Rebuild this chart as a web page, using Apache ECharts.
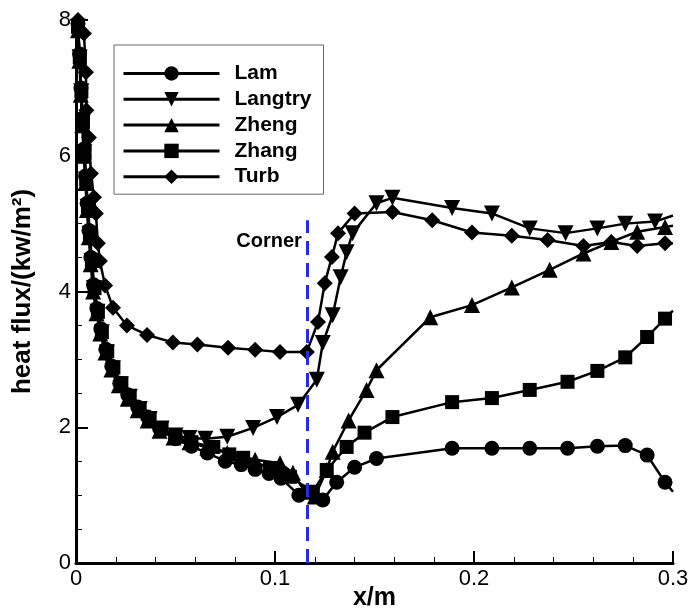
<!DOCTYPE html>
<html>
<head>
<meta charset="utf-8">
<script src="https://cdn.jsdelivr.net/npm/echarts@6/dist/echarts.min.js"></script>
<style>
  html, body { margin: 0; padding: 0; background: #fff; }
  #chart { width: 688px; height: 611px; }
</style>
</head>
<body>
<div id="chart"></div>
<script>
var names = ['Lam', 'Langtry', 'Zheng', 'Zhang', 'Turb'];

// [x (m), heat flux (kw/m2)]
var lam = [
  [0.001, 7.95], [0.0018, 7.5], [0.0025, 7.0], [0.0032, 6.55], [0.004, 6.1], [0.0048, 5.7],
  [0.0056, 5.3], [0.0065, 4.9], [0.0075, 4.5], [0.0088, 4.1], [0.0105, 3.75], [0.0125, 3.45],
  [0.015, 3.15], [0.018, 2.9], [0.022, 2.65], [0.026, 2.48], [0.031, 2.3], [0.036, 2.15],
  [0.042, 1.98], [0.05, 1.83], [0.058, 1.72], [0.066, 1.62], [0.075, 1.5], [0.083, 1.45],
  [0.09, 1.38], [0.097, 1.32], [0.103, 1.25], [0.112, 1.0], [0.124, 0.93], [0.131, 1.19],
  [0.14, 1.41], [0.151, 1.54], [0.189, 1.69], [0.209, 1.69], [0.228, 1.69], [0.247, 1.69],
  [0.262, 1.72], [0.276, 1.73], [0.287, 1.59], [0.296, 1.19], [0.3, 1.05]
];
var langtry = [
  [0.001, 7.9], [0.0018, 7.45], [0.0026, 6.95], [0.0034, 6.5], [0.0042, 6.05], [0.005, 5.65],
  [0.0058, 5.25], [0.0068, 4.85], [0.0078, 4.45], [0.009, 4.05], [0.0108, 3.7], [0.013, 3.4],
  [0.0155, 3.1], [0.0185, 2.87], [0.0225, 2.63], [0.027, 2.45], [0.032, 2.27], [0.037, 2.12],
  [0.043, 1.98], [0.05, 1.88], [0.057, 1.84], [0.065, 1.83], [0.076, 1.86], [0.089, 1.99],
  [0.101, 2.15], [0.1116, 2.33], [0.121, 2.7], [0.124, 3.24], [0.129, 3.65], [0.133, 4.21],
  [0.136, 4.58], [0.139, 4.86], [0.151, 5.3], [0.159, 5.38], [0.189, 5.23], [0.209, 5.15],
  [0.228, 4.93], [0.246, 4.86], [0.262, 4.93], [0.276, 5.0], [0.291, 5.03], [0.3, 5.12]
];
var zheng = [
  [0.001, 7.85], [0.0017, 7.4], [0.0024, 6.9], [0.0031, 6.45], [0.0039, 6.0], [0.0047, 5.6],
  [0.0055, 5.2], [0.0064, 4.8], [0.0074, 4.4], [0.0086, 4.0], [0.0103, 3.68], [0.0122, 3.38],
  [0.0148, 3.1], [0.0178, 2.85], [0.0215, 2.62], [0.026, 2.42], [0.031, 2.25], [0.036, 2.1],
  [0.042, 1.95], [0.049, 1.85], [0.057, 1.78], [0.066, 1.7], [0.076, 1.62], [0.09, 1.52],
  [0.1025, 1.47], [0.109, 1.33], [0.115, 1.05], [0.12, 0.98], [0.126, 1.37], [0.129, 1.64],
  [0.137, 2.1], [0.146, 2.55], [0.151, 2.84], [0.178, 3.62], [0.199, 3.8], [0.219, 4.06],
  [0.238, 4.32], [0.255, 4.56], [0.269, 4.73], [0.282, 4.88], [0.296, 4.95], [0.3, 4.97]
];
var zhang = [
  [0.001, 7.9], [0.0019, 7.45], [0.0027, 6.95], [0.0035, 6.5], [0.0043, 6.05], [0.0051, 5.65],
  [0.006, 5.25], [0.007, 4.85], [0.008, 4.45], [0.0093, 4.05], [0.011, 3.7], [0.013, 3.4],
  [0.0157, 3.12], [0.0188, 2.88], [0.0228, 2.65], [0.027, 2.46], [0.032, 2.28], [0.037, 2.13],
  [0.043, 1.98], [0.05, 1.86], [0.058, 1.78], [0.069, 1.71], [0.077, 1.6], [0.084, 1.55],
  [0.0975, 1.4], [0.1075, 1.27], [0.119, 1.05], [0.126, 1.37], [0.136, 1.71], [0.145, 1.92],
  [0.159, 2.15], [0.189, 2.37], [0.209, 2.43], [0.228, 2.55], [0.247, 2.67], [0.262, 2.83],
  [0.276, 3.03], [0.287, 3.33], [0.296, 3.6], [0.3, 3.72]
];
var turb = [
  [0.001, 8.0], [0.004, 7.8], [0.005, 7.23], [0.0052, 6.67], [0.0065, 6.27], [0.0075, 5.74],
  [0.009, 5.39], [0.01, 5.15], [0.011, 4.71], [0.012, 4.45], [0.0146, 4.09], [0.0186, 3.76],
  [0.0256, 3.5], [0.0357, 3.36], [0.0487, 3.25], [0.061, 3.22], [0.0764, 3.17], [0.09, 3.14],
  [0.1025, 3.11], [0.116, 3.11], [0.1216, 3.55], [0.125, 4.12], [0.1286, 4.51], [0.1317, 4.86],
  [0.14, 5.15], [0.159, 5.17], [0.179, 5.05], [0.199, 4.87], [0.219, 4.82], [0.237, 4.76],
  [0.255, 4.67], [0.269, 4.73], [0.282, 4.67], [0.296, 4.71], [0.3, 4.71]
];

var xTicks = ['0', '0.1', '0.2', '0.3'];
var cornerX = 0.116;
var cornerTop = 5.05;
var cornerLabelY = 4.74;

var font = '"Liberation Sans", Arial, sans-serif';

// last point only carries the line to the frame, no marker there
function toData(arr) {
  return arr.map(function (p, i) {
    return i === arr.length - 1 ? { value: p, symbol: 'none' } : p;
  });
}

function curve(name, arr, symbol, size, rotate) {
  return {
    name: name,
    type: 'line',
    data: toData(arr),
    symbol: symbol,
    symbolSize: size,
    symbolRotate: rotate || 0,
    showAllSymbol: true,
    animation: false,
    itemStyle: { color: '#000' },
    lineStyle: { color: '#000', width: 2.5 }
  };
}

var chart = echarts.init(document.getElementById('chart'));
chart.setOption({
  animation: false,
  backgroundColor: '#fff',
  grid: { left: 76, right: 15, top: 20, bottom: 48, outerBoundsMode: 'none' },
  legend: {
    data: names,
    orient: 'vertical',
    left: 114,
    top: 45,
    padding: [18, 12, 7, 8],
    itemWidth: 96,
    itemHeight: 18,
    itemGap: 4.8,
    borderColor: '#666',
    borderWidth: 1,
    lineStyle: { width: 3 },
    textStyle: { color: '#000', fontFamily: font, fontWeight: 'bold', fontSize: 21, padding: [0, 0, 0, 10] }
  },
  xAxis: {
    type: 'value',
    min: 0,
    max: 0.3,
    interval: 0.1,
    name: 'x/m',
    nameLocation: 'middle',
    nameGap: 23,
    nameMoveOverlap: false,
    nameTextStyle: { color: '#000', fontFamily: font, fontWeight: 'bold', fontSize: 25 },
    axisLine: { lineStyle: { color: '#000', width: 3 } },
    axisTick: { inside: true, length: 12, lineStyle: { color: '#000', width: 2 } },
    minorTick: { show: true, splitNumber: 5, length: 6, lineStyle: { color: '#000', width: 1 } },
    splitLine: { show: false },
    axisLabel: {
      color: '#000', fontFamily: font, fontSize: 22, margin: 5,
      formatter: function (v) { return xTicks[Math.round(v * 10)]; }
    }
  },
  yAxis: {
    type: 'value',
    min: 0,
    max: 8,
    interval: 2,
    name: 'heat flux/(kw/m²)',
    nameLocation: 'middle',
    nameGap: 40,
    nameMoveOverlap: false,
    nameTextStyle: { color: '#000', fontFamily: font, fontWeight: 'bold', fontSize: 26 },
    axisLine: { lineStyle: { color: '#000', width: 3 } },
    axisTick: { inside: true, length: 12, lineStyle: { color: '#000', width: 2 } },
    minorTick: { show: true, splitNumber: 4, length: 6, lineStyle: { color: '#000', width: 1 } },
    splitLine: { show: false },
    axisLabel: { color: '#000', fontFamily: font, fontSize: 22, margin: 5 }
  },
  series: [
    curve('Lam', lam, 'circle', 15),
    curve('Langtry', langtry, 'triangle', 16, 180),
    curve('Zheng', zheng, 'triangle', 16),
    curve('Zhang', zhang, 'rect', 14),
    curve('Turb', turb, 'diamond', 16),
    {
      name: 'corner',
      type: 'line',
      data: [],
      animation: false,
      markLine: {
        silent: true,
        symbol: 'none',
        label: { show: false },
        lineStyle: { color: '#2a2ae6', width: 3, type: [14, 8] },
        data: [[{ coord: [cornerX, 0] }, { coord: [cornerX, cornerTop] }]]
      },
      markPoint: {
        silent: true,
        symbolSize: 0,
        data: [{
          coord: [cornerX, cornerLabelY],
          label: {
            show: true, position: 'left', distance: 5, formatter: 'Corner',
            color: '#000', fontFamily: font, fontWeight: 'bold', fontSize: 20
          }
        }]
      }
    }
  ]
});
</script>
</body>
</html>
